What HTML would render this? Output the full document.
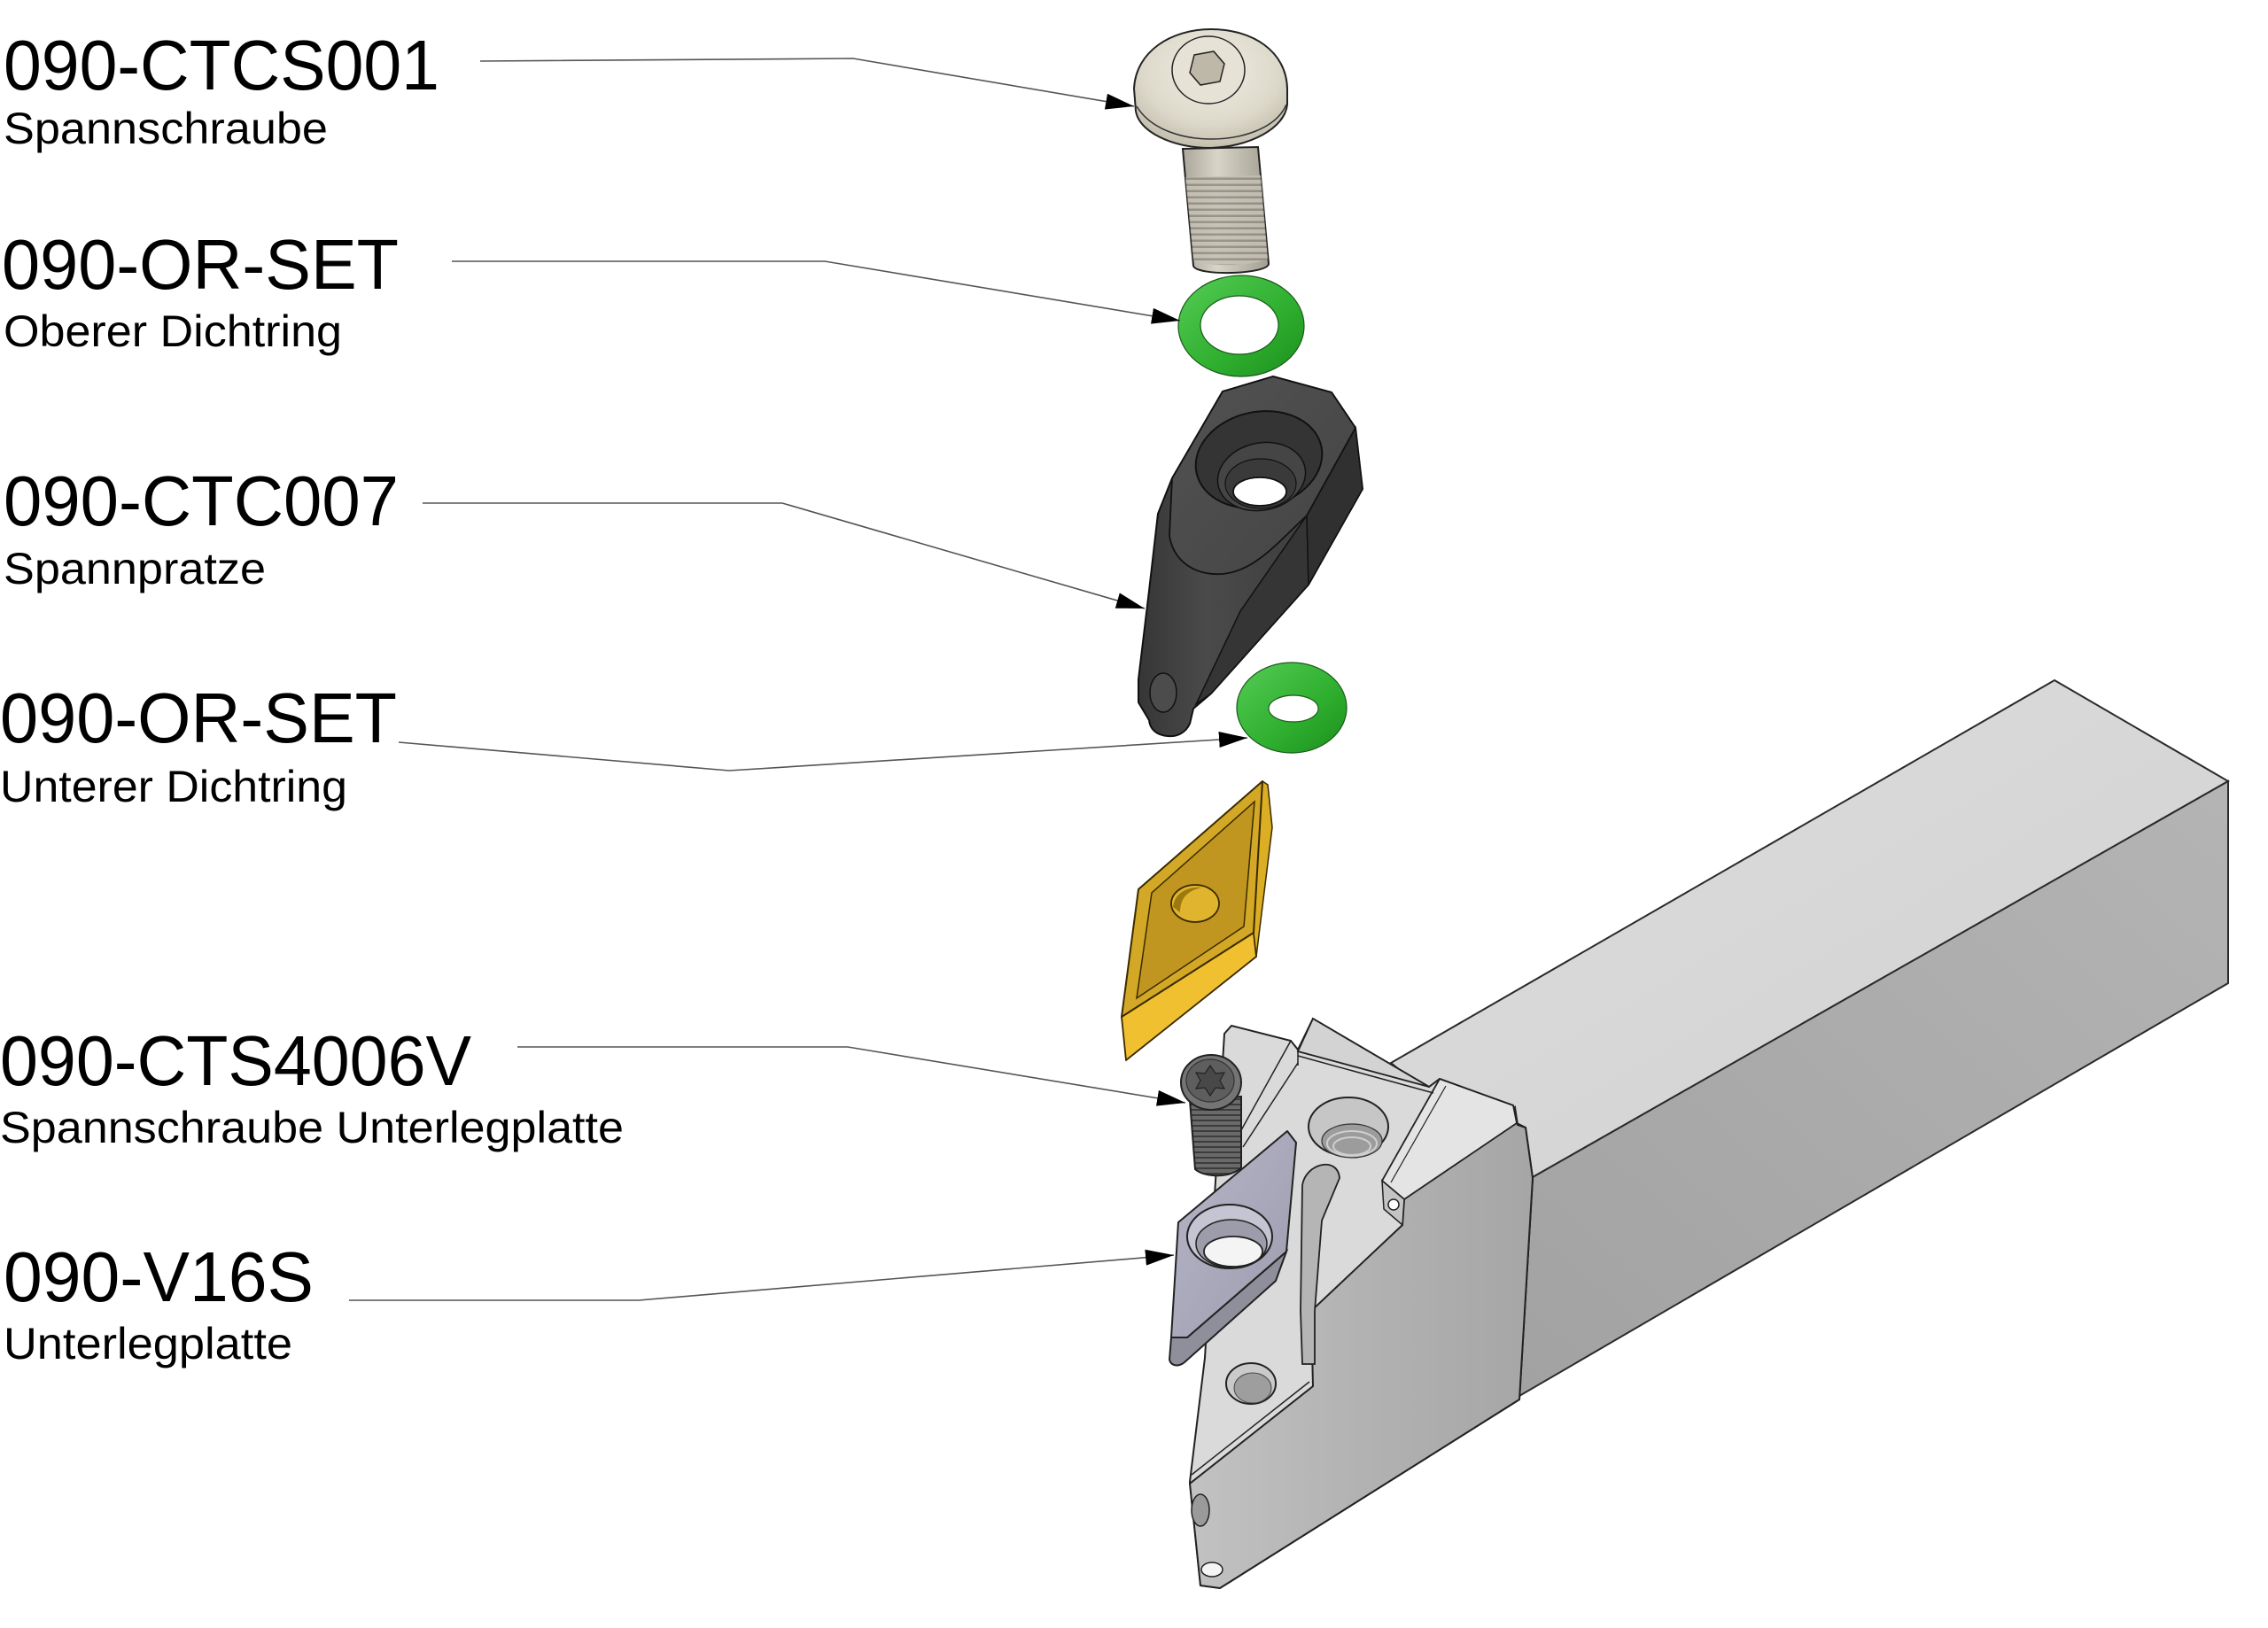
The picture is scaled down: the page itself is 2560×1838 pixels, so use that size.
<!DOCTYPE html>
<html><head><meta charset="utf-8"><style>
html,body{margin:0;padding:0;background:#fff;}
svg{display:block;}
text{font-family:"Liberation Sans",Arial,sans-serif;fill:#000;}
</style></head><body>
<svg width="2560" height="1838" viewBox="0 0 2560 1838" xmlns="http://www.w3.org/2000/svg">
<defs>
<marker id="arr" viewBox="0 0 32 18" refX="32" refY="9" markerWidth="32" markerHeight="18" markerUnits="userSpaceOnUse" orient="auto">
<path d="M0,0 L32,9 L0,18 Z" fill="#000"/>
</marker>
<linearGradient id="gBarTop" x1="0" y1="0" x2="1" y2="1"><stop offset="0" stop-color="#dcdcdc"/><stop offset="1" stop-color="#d2d2d2"/></linearGradient>
<linearGradient id="gBarSide" x1="1" y1="0" x2="0" y2="1"><stop offset="0" stop-color="#b4b4b4"/><stop offset="1" stop-color="#a2a2a2"/></linearGradient>
<linearGradient id="gMid" x1="0" y1="0" x2="1" y2="0"><stop offset="0" stop-color="#c2c2c2"/><stop offset="0.5" stop-color="#b2b2b2"/><stop offset="1" stop-color="#a6a6a6"/></linearGradient>
<radialGradient id="gHead" cx="0.5" cy="0.35" r="0.65"><stop offset="0" stop-color="#f1eee5"/><stop offset="0.7" stop-color="#dcd8c9"/><stop offset="1" stop-color="#c3bead"/></radialGradient>
<linearGradient id="gShank" x1="0" y1="0" x2="1" y2="0"><stop offset="0" stop-color="#aaa69a"/><stop offset="0.4" stop-color="#d8d4c8"/><stop offset="1" stop-color="#a29e92"/></linearGradient>
<pattern id="thr" width="10" height="7" patternUnits="userSpaceOnUse"><rect width="10" height="7" fill="#c4c0b4"/><rect y="4.5" width="10" height="2.5" fill="#8f8b80"/></pattern>
<pattern id="thr2" width="10" height="6" patternUnits="userSpaceOnUse"><rect width="10" height="6" fill="#6a6a6a"/><rect y="4" width="10" height="2" fill="#3c3c3c"/></pattern>
<linearGradient id="gRing" x1="0" y1="0" x2="1" y2="1"><stop offset="0" stop-color="#55cc55"/><stop offset="0.6" stop-color="#2eae2e"/><stop offset="1" stop-color="#1d8f1d"/></linearGradient>
<linearGradient id="gClampTop" x1="0" y1="0" x2="1" y2="1"><stop offset="0" stop-color="#525252"/><stop offset="1" stop-color="#444"/></linearGradient>
<linearGradient id="gClampBody" x1="0" y1="0" x2="1" y2="0"><stop offset="0" stop-color="#363636"/><stop offset="0.3" stop-color="#4a4a4a"/><stop offset="1" stop-color="#383838"/></linearGradient>
<linearGradient id="gShim" x1="0" y1="0" x2="1" y2="1"><stop offset="0" stop-color="#b6b6c8"/><stop offset="1" stop-color="#9c9cae"/></linearGradient>
</defs>

<!-- ============ BAR ============ -->
<polygon points="2319,768 2515,882 1730,1329 1570,1200" fill="url(#gBarTop)" stroke="#2a2a2a" stroke-width="2"/>
<polygon points="2515,882 2515,1110 1715,1576 1730,1329" fill="url(#gBarSide)" stroke="#2a2a2a" stroke-width="2"/>

<!-- ============ HEAD ============ -->
<path d="M1382,1167 L1390,1158 L1457,1175 L1465,1185 L1482,1150 L1613,1227 L1625,1218 L1708,1248 L1712,1268 L1722,1273 L1730,1330 L1715,1580 L1377,1793 L1355,1790 L1343,1673 L1360,1533 Z" fill="#dadada" stroke="#222" stroke-width="2"/>
<path d="M1585,1354 L1710,1250 L1713,1270 L1722,1273 L1730,1330 L1715,1580 L1377,1793 L1355,1790 L1343,1675 L1482,1565 L1480,1480 L1583,1383 Z" fill="url(#gMid)" stroke="#222" stroke-width="2"/>
<path d="M1345,1665 L1478,1560" stroke="#222" stroke-width="1.5" fill="none"/>
<path d="M1625,1218 L1708,1248 L1712,1268 L1585,1354 L1560,1333 Z" fill="#e4e4e4" stroke="#222" stroke-width="1.8"/>
<path d="M1632,1226 L1570,1335" stroke="#222" stroke-width="1.2"/>
<path d="M1560,1333 L1585,1354 L1583,1383 L1562,1365 Z" fill="#c4c4c4" stroke="#222" stroke-width="1.5"/>
<circle cx="1573" cy="1360" r="6" fill="#fff" stroke="#222" stroke-width="1.5"/>
<path d="M1457,1175 L1396,1285" stroke="#222" stroke-width="1.5"/>
<path d="M1465,1200 L1403,1295" stroke="#222" stroke-width="1.5"/>
<path d="M1465,1185 L1465,1203" stroke="#222" stroke-width="1.5"/>
<path d="M1465,1187 L1482,1150 L1613,1227 Z" fill="#d3d3d3" stroke="#222" stroke-width="1.8"/>
<path d="M1465,1192 L1618,1234" stroke="#222" stroke-width="1.5"/>
<ellipse cx="1522" cy="1272" rx="45" ry="33" fill="#c6c6c6" stroke="#222" stroke-width="2"/>
<ellipse cx="1526" cy="1288" rx="34" ry="19" fill="#9c9c9c" stroke="#333" stroke-width="1.2"/>
<ellipse cx="1526" cy="1291" rx="28" ry="14" fill="none" stroke="#cfcfcf" stroke-width="2"/>
<ellipse cx="1526" cy="1294" rx="21" ry="10" fill="none" stroke="#cfcfcf" stroke-width="2"/>
<path d="M1470,1338 C1474,1313 1510,1305 1512,1330 L1492,1378 L1484,1480 L1484,1540 L1470,1540 L1468,1480 Z" fill="#b5b5b5" stroke="#222" stroke-width="1.8"/>
<ellipse cx="1412" cy="1562" rx="28" ry="23" fill="#cacaca" stroke="#222" stroke-width="2"/>
<ellipse cx="1414" cy="1567" rx="21" ry="17" fill="#9e9e9e" stroke="#444" stroke-width="1"/>
<ellipse cx="1355" cy="1705" rx="10" ry="18" fill="#9a9a9a" stroke="#222" stroke-width="1.5"/>
<ellipse cx="1368" cy="1772" rx="12" ry="8" fill="#f5f5f5" stroke="#222" stroke-width="1.5"/>

<!-- ============ SHIM ============ -->
<path d="M1322,1510 L1320,1535 C1322,1543 1331,1543 1337,1538 L1440,1446 L1452,1413 L1340,1510 Z" fill="#8f8f9c" stroke="#222" stroke-width="2"/>
<path d="M1453,1277 L1463,1290 L1452,1413 L1340,1510 L1322,1510 L1330,1380 Z" fill="url(#gShim)" stroke="#222" stroke-width="2" stroke-linejoin="round"/>
<ellipse cx="1388" cy="1396" rx="48" ry="36" fill="#c4c4d2" stroke="#222" stroke-width="2"/>
<ellipse cx="1390" cy="1404" rx="40" ry="27" fill="#9c9caa" stroke="#222" stroke-width="1.5"/>
<ellipse cx="1392" cy="1413" rx="33" ry="17" fill="#f4f4f4" stroke="#222" stroke-width="1.8"/>

<!-- ============ SMALL SCREW ============ -->
<path d="M1343,1242 L1349,1320 C1360,1330 1390,1330 1401,1318 L1401,1238 Z" fill="url(#thr2)" stroke="#222" stroke-width="2"/>
<ellipse cx="1367" cy="1222" rx="34" ry="31" fill="#747474" stroke="#222" stroke-width="2"/>
<ellipse cx="1366" cy="1220" rx="27" ry="24" fill="#5e5e5e" stroke="#333" stroke-width="1.2"/>
<polygon points="1366,1203 1372,1212 1382,1211 1377,1220 1382,1229 1372,1228 1366,1237 1360,1228 1350,1229 1355,1220 1350,1211 1360,1212" fill="#484848" stroke="#222" stroke-width="1.2"/>

<!-- ============ INSERT ============ -->
<polygon points="1266,1148 1271,1197 1418,1080 1415,1053" fill="#f0c030" stroke="#3a2a00" stroke-width="1.8" stroke-linejoin="round"/>
<polygon points="1425,882 1431,886 1436,934 1418,1080 1415,1053" fill="#dcae24" stroke="#3a2a00" stroke-width="1.5" stroke-linejoin="round"/>
<polygon points="1425,882 1285,1004 1266,1148 1415,1053" fill="#d2a826" stroke="#3a2a00" stroke-width="2" stroke-linejoin="round"/>
<polygon points="1416,905 1300,1008 1283,1127 1404,1046" fill="#c09620" stroke="#3a2a00" stroke-width="1.5"/>
<ellipse cx="1349" cy="1020" rx="27" ry="21" fill="#e0b42c" stroke="#3a2a00" stroke-width="1.8"/>
<path d="M1324,1024 C1326,1008 1340,1001 1356,1002 C1340,1006 1332,1014 1332,1030 Z" fill="#9c7810"/>

<!-- ============ CLAMP ============ -->
<path d="M1437,425 L1503,443 L1530,483 L1538,552 L1477,660 L1367,783 L1347,800 L1343,817 C1338,828 1328,832 1318,831 C1305,830 1298,823 1297,813 L1285,793 L1285,767 L1297,667 L1307,580 L1323,540 L1380,442 Z" fill="url(#gClampBody)" stroke="#111" stroke-width="2"/>
<path d="M1475,582 L1477,660 L1367,783 L1350,795 L1400,690 Z" fill="#353535" stroke="#111" stroke-width="1.5"/>
<path d="M1530,483 L1538,552 L1477,660 L1475,582 Z" fill="#303030" stroke="#111" stroke-width="1.5"/>
<path d="M1380,442 L1437,425 L1503,443 L1530,483 L1475,582 C1440,615 1415,645 1380,648 C1350,650 1325,635 1320,605 L1323,540 Z" fill="url(#gClampTop)" stroke="#111" stroke-width="1.8"/>
<ellipse cx="1421" cy="519" rx="72" ry="54" transform="rotate(-12 1421 519)" fill="#343434" stroke="#111" stroke-width="2"/>
<ellipse cx="1424" cy="538" rx="50" ry="38" transform="rotate(-12 1424 538)" fill="#454545" stroke="#111" stroke-width="1.5"/>
<ellipse cx="1423" cy="546" rx="40" ry="28" fill="#3a3a3a" stroke="#111" stroke-width="1.2"/>
<ellipse cx="1422" cy="555" rx="30" ry="16" fill="#fff" stroke="#111" stroke-width="1.8"/>
<ellipse cx="1313" cy="782" rx="15" ry="22" fill="#4c4c4c" stroke="#111" stroke-width="1.5"/>

<!-- ============ RINGS ============ -->
<path d="M1330,368 a71,57 0 1,0 142,0 a71,57 0 1,0 -142,0 Z M1355,367 a44,33 0 1,0 88,0 a44,33 0 1,0 -88,0 Z" fill="url(#gRing)" fill-rule="evenodd" stroke="#1a5a1a" stroke-width="1.2"/>
<path d="M1396,799 a62,51 0 1,0 124,0 a62,51 0 1,0 -124,0 Z M1432,800 a28,15 0 1,0 56,0 a28,15 0 1,0 -56,0 Z" fill="url(#gRing)" fill-rule="evenodd" stroke="#1a5a1a" stroke-width="1.2"/>

<!-- ============ TOP SCREW ============ -->
<path d="M1335,168 L1420,166 L1432,298 C1430,310 1350,312 1347,300 Z" fill="url(#gShank)" stroke="#222" stroke-width="2"/>
<path d="M1338,200 L1423,198 L1431,292 C1420,300 1360,302 1347,294 Z" fill="url(#thr)" opacity="0.85"/>
<path d="M1280,100 C1282,58 1322,33 1367,33 C1414,33 1452,58 1453,100 L1453,118 C1450,145 1412,165 1367,167 C1322,167 1285,148 1282,125 Z" fill="url(#gHead)" stroke="#222" stroke-width="2"/>
<path d="M1283,120 C1300,148 1338,157 1367,157 C1400,157 1440,146 1452,118" stroke="#333" stroke-width="1.5" fill="none"/>
<ellipse cx="1364" cy="79" rx="41" ry="38" fill="#e6e2d6" stroke="#222" stroke-width="1.5"/>
<polygon points="1348,62 1370,58 1382,72 1377,92 1355,96 1343,82" fill="#bdb8a8" stroke="#222" stroke-width="1.5"/>

<!-- ============ LEADERS ============ -->
<g fill="none" stroke="#555" stroke-width="1.6">
<polyline points="542,69 963,66 1280,120" marker-end="url(#arr)"/>
<polyline points="510,295 931,295 1332,362" marker-end="url(#arr)"/>
<polyline points="477,568 883,568 1292,687" marker-end="url(#arr)"/>
<polyline points="450,838 823,870 1408,833" marker-end="url(#arr)"/>
<polyline points="584,1182 957,1182 1338,1245" marker-end="url(#arr)"/>
<polyline points="394,1468 721,1468 1325,1417" marker-end="url(#arr)"/>
</g>

<!-- ============ LABELS ============ -->
<text x="4" y="101" font-size="80" textLength="492" lengthAdjust="spacingAndGlyphs">090-CTCS001</text>
<text x="4" y="162" font-size="50" textLength="366" lengthAdjust="spacingAndGlyphs">Spannschraube</text>
<text x="2" y="326" font-size="80" textLength="448" lengthAdjust="spacingAndGlyphs">090-OR-SET</text>
<text x="4" y="391" font-size="50" textLength="382" lengthAdjust="spacingAndGlyphs">Oberer Dichtring</text>
<text x="4" y="593" font-size="80" textLength="446" lengthAdjust="spacingAndGlyphs">090-CTC007</text>
<text x="4" y="659" font-size="50" textLength="296" lengthAdjust="spacingAndGlyphs">Spannpratze</text>
<text x="0" y="838" font-size="80" textLength="448" lengthAdjust="spacingAndGlyphs">090-OR-SET</text>
<text x="0" y="905" font-size="50" textLength="392" lengthAdjust="spacingAndGlyphs">Unterer Dichtring</text>
<text x="0" y="1225" font-size="80" textLength="532" lengthAdjust="spacingAndGlyphs">090-CTS4006V</text>
<text x="0" y="1290" font-size="50" textLength="704" lengthAdjust="spacingAndGlyphs">Spannschraube Unterlegplatte</text>
<text x="4" y="1469" font-size="80" textLength="350" lengthAdjust="spacingAndGlyphs">090-V16S</text>
<text x="4" y="1534" font-size="50" textLength="326" lengthAdjust="spacingAndGlyphs">Unterlegplatte</text>
</svg>
</body></html>
